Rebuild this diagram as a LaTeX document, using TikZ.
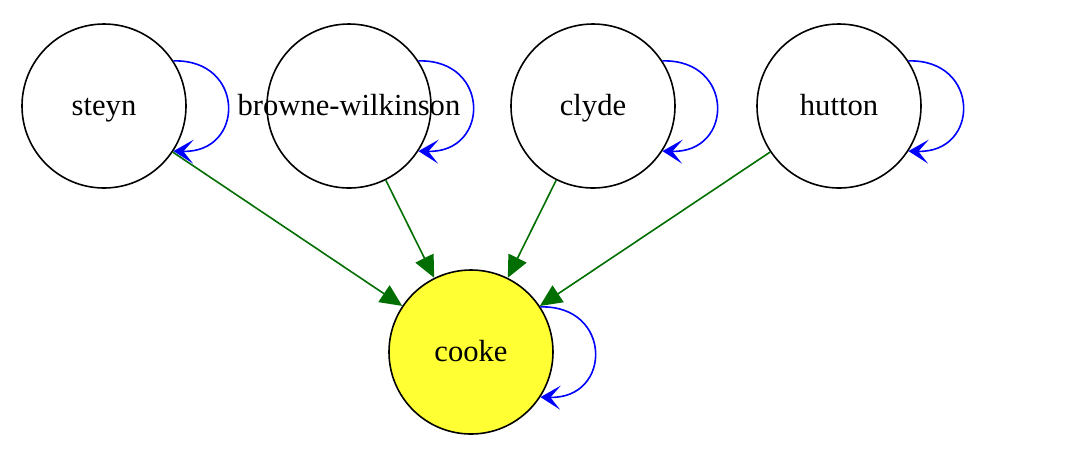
\documentclass[tikz,border=0pt]{standalone}
\usepackage{fontspec}
\setmainfont{Liberation Serif}
\usepackage{xcolor}
\usetikzlibrary{arrows.meta,positioning}
\definecolor{judgeyellow}{RGB}{255,255,51}
\definecolor{edgegreen}{RGB}{0,110,0}

\begin{document}
\begin{tikzpicture}[x=0.5pt, y=-0.5pt,
    judge/.style={draw=black, circle, line width=0.8pt, minimum size=82pt, inner sep=0pt, text height=1.0em, text depth=0.1em, font=\fontsize{15.3}{18}\selectfont},
    cites/.style={draw=edgegreen, line width=0.8pt, -{Triangle[length=11pt,width=10pt]}},
    selfloop/.style={draw=blue, line width=0.8pt, -{Stealth[length=10pt,width=12pt,inset=5pt]}}]
    \useasboundingbox (0,0) rectangle (1088,462);

    % Judges
    \node[judge] (steyn) at (104,106) {steyn};
    \node[judge] (browne) at (349,106) {\makebox[0pt]{browne-wilkinson}};
    \node[judge] (clyde) at (593,106) {clyde};
    \node[judge] (hutton) at (839,106) {hutton};
    \node[judge, fill=judgeyellow] (cooke) at (471,352) {cooke};

    % Self loops
    \foreach \j in {steyn,browne,clyde,hutton,cooke}
        \draw[selfloop] (\j.33) .. controls +(72,-2) and +(72,2) .. (\j.-33);

    % Arrows into cooke
    \foreach \j in {steyn,browne,clyde,hutton}
        \draw[cites] (\j) -- (cooke);
\end{tikzpicture}
\end{document}
